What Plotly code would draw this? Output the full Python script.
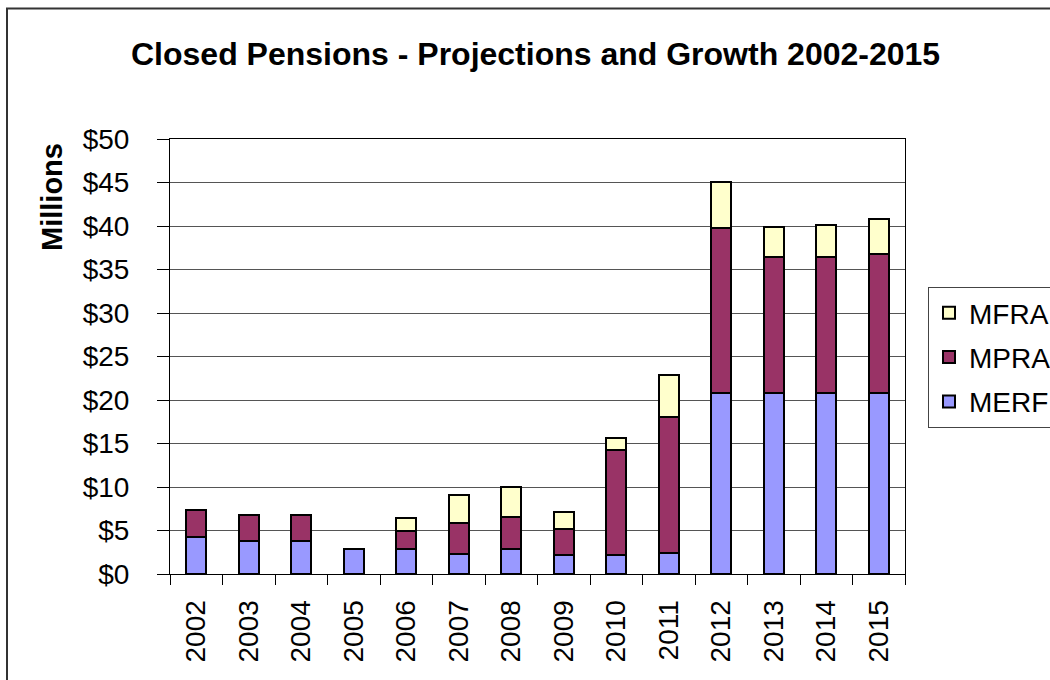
import plotly.graph_objects as go

# Annual closed-pension amounts, millions of dollars
years = ["2002", "2003", "2004", "2005", "2006", "2007", "2008",
         "2009", "2010", "2011", "2012", "2013", "2014", "2015"]
merf = [4.3, 3.8, 3.8, 2.9, 2.9, 2.3, 2.9, 2.2, 2.2, 2.4, 20.8, 20.8, 20.8, 20.8]
mpra = [3.0, 3.0, 3.0, 0.0, 2.1, 3.6, 3.7, 3.0, 12.0, 15.7, 19.0, 15.6, 15.6, 16.0]
mfra = [0.0, 0.0, 0.0, 0.0, 1.4, 3.2, 3.4, 1.9, 1.4, 4.8, 5.3, 3.45, 3.7, 4.0]

y_ticks = [0, 5, 10, 15, 20, 25, 30, 35, 40, 45, 50]

FONT = "Liberation Sans, Arial, sans-serif"
W, H = 1050, 680
L, R, T, B = 170, 145, 139, 106
PW, PH = W - L - R, H - T - B


def px_x(p):
    return (p - L) / PW


def px_y(p):
    return (H - B - p) / PH


fig = go.Figure()
# stacked bottom to top; legend lists the top segment first
series = [("MERF", merf, "#9999FF", 3), ("MPRA", mpra, "#993366", 2),
          ("MFRA", mfra, "#FFFFCC", 1)]
for name, vals, color, rank in series:
    fig.add_trace(go.Bar(
        x=years, y=vals, name=name, legendgroup=name, legendrank=rank,
        marker=dict(color=color, line=dict(color="black", width=2)),
    ))

fig.update_layout(
    width=W, height=H,
    margin=dict(l=L, r=R, t=T, b=B, pad=0, autoexpand=False),
    barmode="stack", bargap=0.62,
    paper_bgcolor="white", plot_bgcolor="white",
    font=dict(family=FONT, color="black", size=28),
    showlegend=True,
    legend=dict(
        x=px_x(928), y=px_y(287), xanchor="left", yanchor="top",
        traceorder="grouped", tracegroupgap=5,
        bordercolor="#444444", borderwidth=1, bgcolor="white",
        font=dict(family=FONT, size=28, color="black"),
    ),
    xaxis=dict(
        type="category", tickangle=-90, tickson="boundaries",
        ticks="outside", ticklen=10, tickcolor="black",
        showline=True, linecolor="black", linewidth=1, mirror=True,
        showgrid=False, ticklabelstandoff=14,
        tickfont=dict(family=FONT, size=28),
    ),
    yaxis=dict(
        range=[0, 50], tickvals=y_ticks,
        ticktext=[f"${v}" for v in y_ticks],
        ticks="outside", ticklen=12, tickcolor="black",
        showline=True, linecolor="black", linewidth=1, mirror=True,
        showgrid=True, gridcolor="#555555", gridwidth=1,
        ticklabelstandoff=22,
        tickfont=dict(family=FONT, size=28),
    ),
    annotations=[
        dict(text="<b>Closed Pensions - Projections and Growth 2002-2015</b>",
             xref="paper", yref="paper", x=px_x(535), y=px_y(54),
             xanchor="center", yanchor="middle", showarrow=False,
             font=dict(family=FONT, size=32, color="black")),
        dict(text="<b>Millions</b>", textangle=-90,
             xref="paper", yref="paper", x=px_x(52), y=px_y(197),
             xanchor="center", yanchor="middle", showarrow=False,
             font=dict(family=FONT, size=29, color="black")),
    ],
    shapes=[
        dict(type="rect", xref="paper", yref="paper",
             x0=px_x(7), x1=px_x(1070), y0=px_y(700), y1=px_y(8.5),
             line=dict(color="#333333", width=2), fillcolor="rgba(0,0,0,0)",
             layer="below"),
    ],
)

fig.write_html("out.html")
